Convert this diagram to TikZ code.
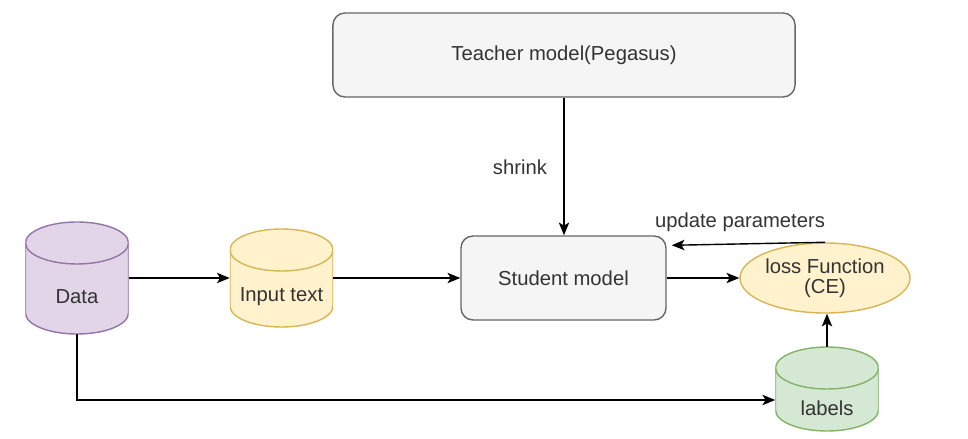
\documentclass[tikz,border=0pt]{standalone}
\usepackage{fontspec}
\setmainfont{Liberation Sans}
\usetikzlibrary{arrows.meta,shapes.geometric}
\definecolor{txtgray}{HTML}{333333}
\definecolor{boxfill}{HTML}{F5F5F5}
\definecolor{boxline}{HTML}{666666}
\definecolor{datafill}{HTML}{E1D5E7}
\definecolor{dataline}{HTML}{9673A6}
\definecolor{yelfill}{HTML}{FFF2CC}
\definecolor{yelline}{HTML}{D6B656}
\definecolor{labfill}{HTML}{D5E8D4}
\definecolor{labline}{HTML}{82B366}

\begin{document}
\begin{tikzpicture}[x=0.025cm,y=-0.025cm,
		font=\fontsize{14.4}{14.2}\selectfont, text=txtgray,
		box/.style={draw=boxline,fill=boxfill,rounded corners=0.3cm,line width=1pt,minimum height=2.1cm},
		drum/.style n args={4}{minimum width=2.575cm,minimum height=#3,inner sep=0pt,
			path picture={
				\path[fill=#1,draw=#2,line width=1pt] ([yshift=-0.525cm]path picture bounding box.north west)
					-- ([yshift=0.525cm]path picture bounding box.south west)
					arc[start angle=180,end angle=360,x radius=1.2875cm,y radius=0.525cm]
					-- ([yshift=-0.525cm]path picture bounding box.north east)
					arc[start angle=0,end angle=180,x radius=1.2875cm,y radius=0.525cm] -- cycle;
				\draw[#2,line width=1pt] ([yshift=-0.525cm]path picture bounding box.north west)
					arc[start angle=180,end angle=360,x radius=1.2875cm,y radius=0.525cm];
			},
			label={[yshift=-0.475cm]center:#4}},
		link/.style={-{Stealth[length=0.32cm,width=0.26cm,inset=0.08cm]},line width=1pt}]
		\useasboundingbox (0,0) rectangle (968,439);
		\node[box,minimum width=11.55cm] (teacher) at (564,55) {Teacher model(Pegasus)};
		\node[box,minimum width=5.125cm] (student) at (563.5,278) {Student model};
		\node[drum={datafill}{dataline}{2.8cm}{Data}] (data) at (77,278) {};
		\node[drum={yelfill}{yelline}{2.45cm}{Input text}] (input) at (281.5,278) {};
		\node[drum={labfill}{labline}{2.1cm}{labels}] (labels) at (827,389) {};
		\node[ellipse,draw=yelline,fill=yelfill,line width=1pt,minimum width=4.25cm,minimum height=1.75cm,inner sep=0pt,align=center] (loss) at (825,278) {loss Function\\(CE)};
		\node (shrink) at (520,167) {shrink};
		\node (upd) at (740,222) {update parameters};
		% arrows
		\draw[link] (teacher.south) -- (teacher.south |- student.north);
		\draw[link] (data) -- (input);
		\draw[link] (input) -- (student);
		\draw[link] (student) -- (loss);
		\draw[link] (labels.north) -- (labels.north |- loss.south);
		\draw[link] (loss.north) -- ([shift={(0.125cm,-0.25cm)}]student.north east);
		\draw[link] (data.south) |- ([yshift=-0.275cm]labels.west);
	\end{tikzpicture}
\end{document}
